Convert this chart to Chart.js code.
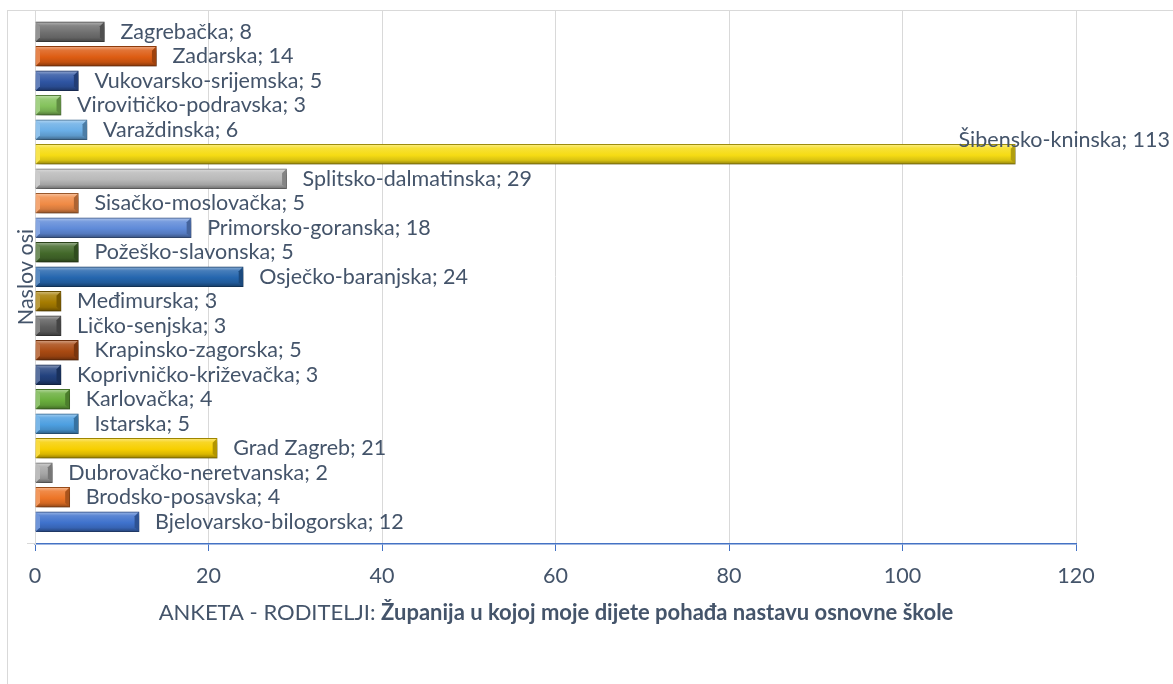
<!DOCTYPE html>
<html><head><meta charset="utf-8">
<script src="https://cdn.jsdelivr.net/npm/chart.js@4.4.0/dist/chart.umd.min.js"></script>
<style>
html,body{margin:0;padding:0;background:#fff;}
#wrap{position:relative;width:1173px;height:684px;overflow:hidden;background:#fff;}
#frame{position:absolute;left:7px;top:10px;width:1300px;height:800px;border:1px solid #d9d9d9;box-sizing:border-box;}
canvas{position:absolute;left:0;top:0;}
</style></head><body>
<div id="wrap"><div id="frame"></div><canvas id="c" width="1173" height="684"></canvas></div>
<script>
// Categories in Excel order (first = bottom bar)
const categories = ['Bjelovarsko-bilogorska','Brodsko-posavska','Dubrovačko-neretvanska','Grad Zagreb','Istarska','Karlovačka','Koprivničko-križevačka','Krapinsko-zagorska','Ličko-senjska','Međimurska','Osječko-baranjska','Požeško-slavonska','Primorsko-goranska','Sisačko-moslovačka','Splitsko-dalmatinska','Šibensko-kninska','Varaždinska','Virovitičko-podravska','Vukovarsko-srijemska','Zadarska','Zagrebačka'];
const values = [12,4,2,21,5,4,3,5,3,3,24,5,18,5,29,113,6,3,5,14,8];
const barColors = ['#3f72cc','#ed7527','#a5a5a5','#f7cf00','#4d9fe0','#6aaf3d','#23427e','#a94a12','#5f5f5f','#a67c00','#2566ae','#43692a','#5f8ad8','#f08a45','#b9b9b9','#f6dc14','#6aaee6','#84c25c','#2f55a3','#dd5c12','#6f6f6f'];
const xTicks = [0,20,40,60,80,100,120];
const xTitleNormal = 'ANKETA - RODITELJI: ';
const xTitleBold = 'Županija u kojoj moje dijete pohađa nastavu osnovne škole';
const yTitle = 'Naslov osi';

const FONT = 'Lato';
const FS = 21.5;
const FT = 22;
const TXT = '#44546a';

function mix(hex, target, t){
  const n = parseInt(hex.slice(1),16);
  const r=(n>>16)&255,g=(n>>8)&255,b=n&255;
  const m = c => Math.round(c + (target - c)*t);
  return `rgb(${m(r)},${m(g)},${m(b)})`;
}

const bevelFill = (ctx) => {
  const base = barColors[ctx.dataIndex] || '#888';
  if (ctx.type !== 'data') return base;
  const ys = ctx.chart.scales.y;
  if (!ys || !isFinite(ys.top)) return base;
  const yc = ys.getPixelForValue(ctx.dataIndex);
  const g = ctx.chart.ctx.createLinearGradient(0, yc-10, 0, yc+10);
  g.addColorStop(0, mix(base,255,0.5));
  g.addColorStop(0.2, mix(base,255,0.15));
  g.addColorStop(0.55, base);
  g.addColorStop(0.8, mix(base,0,0.12));
  g.addColorStop(1, mix(base,0,0.4));
  return g;
};

const decor = {
  id:'decor',
  beforeDatasetsDraw(chart){
    const c = chart.ctx; c.save();
    c.shadowColor='rgba(0,0,0,0.32)'; c.shadowBlur=5; c.shadowOffsetX=3; c.shadowOffsetY=3;
  },
  afterDatasetsDraw(chart){
    const c = chart.ctx; c.restore();
    const meta = chart.getDatasetMeta(0);
    // bevel facets at the bar ends
    c.save();
    meta.data.forEach((bar,i)=>{
      const base = barColors[i];
      const t = bar.y - bar.height/2 + 0.5, b = bar.y + bar.height/2 - 0.5;
      const r = bar.x - 0.5, l = bar.base + 0.5, d = 4;
      c.fillStyle = mix(base,0,0.28);
      c.beginPath(); c.moveTo(r, t); c.lineTo(r, b); c.lineTo(r-d, b-d); c.lineTo(r-d, t+d); c.closePath(); c.fill();
      c.fillStyle = mix(base,255,0.25);
      c.beginPath(); c.moveTo(l, t); c.lineTo(l+d, t+d); c.lineTo(l+d, b-d); c.lineTo(l, b); c.closePath(); c.fill();
    });
    c.restore();
    c.save();
    c.font = `${FS}px ${FONT}`;
    c.fillStyle = TXT; c.textBaseline='middle'; c.textAlign='left';
    meta.data.forEach((bar,i)=>{
      const t = `${categories[i]}; ${values[i]}`;
      const w = c.measureText(t).width;
      let x = bar.x + 16, y = bar.y;
      if (x + w > chart.width - 3){ x = chart.width - 3 - w; y -= 14; }
      c.fillText(t, x, y);
    });
    c.restore();
  },
  afterDraw(chart){
    const c = chart.ctx; c.save();
    c.fillStyle = TXT; c.textBaseline='middle'; c.textAlign='left';
    const fN = `${FT}px ${FONT}`, fB = `bold ${FT}px ${FONT}`;
    c.font = fN; const w1 = c.measureText(xTitleNormal).width;
    c.font = fB; const w2 = c.measureText(xTitleBold).width;
    const x0 = 556 - (w1+w2)/2, y = 613;
    c.font = fN; c.fillText(xTitleNormal, x0, y);
    c.font = fB; c.fillText(xTitleBold, x0 + w1, y);
    c.strokeStyle='#d9d9d9'; c.lineWidth=1;
    c.beginPath(); c.moveTo(27, 543.5); c.lineTo(35, 543.5); c.stroke();
    c.restore();
  }
};

new Chart(document.getElementById('c'), {
  type:'bar',
  data:{
    datasets:[{
      data: categories.map((cat,i)=>({x: values[i], y: i})),
      backgroundColor: bevelFill,
      borderColor: (ctx)=> mix(barColors[ctx.dataIndex]||'#888',0,0.35),
      borderWidth: 1,
      barThickness: 20
    }]
  },
  options:{
    indexAxis:'y',
    responsive:false,
    animation:false,
    layout:{padding:{left:0,top:10,right:97,bottom:0}},
    plugins:{legend:{display:false},tooltip:{enabled:false}},
    scales:{
      x:{
        type:'linear', min:0, max:120,
        afterBuildTicks: s => { s.ticks = xTicks.map(v=>({value:v})); },
        afterFit: s => { s.height = 140; },
        grid:{color:'#d9d9d9', lineWidth:1, tickLength:7, tickColor:'#4472c4', drawTicks:true},
        border:{color:'#4472c4', width:1.5},
        ticks:{color:TXT, font:{family:FONT, size:FS}, padding:12}
      },
      y:{
        type:'linear', min:-0.91, max:20.886, offset:false,
        afterFit: s => { s.width = 35; },
        ticks:{display:false},
        grid:{display:false, drawTicks:false, offset:false},
        border:{color:'#d9d9d9', width:1},
        title:{display:true, text:yTitle, color:TXT, font:{family:FONT, size:FS}, padding:{top:13,bottom:0}}
      }
    }
  },
  plugins:[decor]
});
</script>
</body></html>
